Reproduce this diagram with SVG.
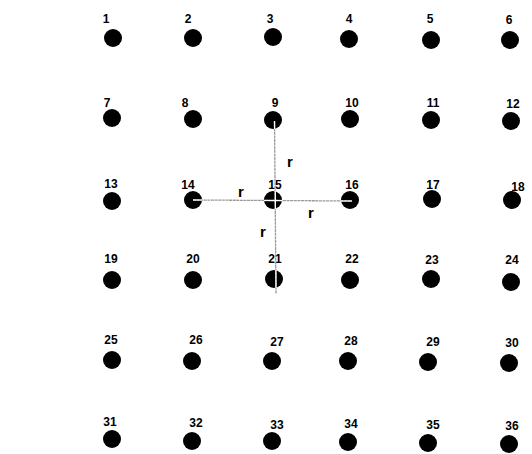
<svg xmlns="http://www.w3.org/2000/svg" width="532" height="454" viewBox="0 0 532 454">
<style>
.d{fill:#000}
.t{font-family:"Liberation Sans",Arial,sans-serif;font-size:12px;font-weight:bold;text-anchor:middle;fill:#000}
.r{font-family:"Liberation Sans",Arial,sans-serif;font-size:15px;font-weight:bold;text-anchor:middle;fill:#000}
.c{stroke:#9a9a9a;stroke-width:1.3;fill:none;stroke-dasharray:3 0.6}
.w{stroke:#fff;stroke-width:1.3;fill:none}
</style>
<rect width="532" height="454" fill="#fff"/>
<g id="n1"><circle class="d" cx="113" cy="38" r="9"/><text class="t" x="106" y="23">1</text></g>
<g id="n2"><circle class="d" cx="193" cy="38" r="9"/><text class="t" x="188" y="23">2</text></g>
<g id="n3"><circle class="d" cx="273" cy="37" r="9"/><text class="t" x="270" y="23">3</text></g>
<g id="n4"><circle class="d" cx="349" cy="39" r="9"/><text class="t" x="349" y="23">4</text></g>
<g id="n5"><circle class="d" cx="431" cy="40" r="9"/><text class="t" x="430" y="23">5</text></g>
<g id="n6"><circle class="d" cx="510" cy="40" r="9"/><text class="t" x="509" y="24">6</text></g>
<g id="n7"><circle class="d" cx="112" cy="118" r="9"/><text class="t" x="107" y="107">7</text></g>
<g id="n8"><circle class="d" cx="193" cy="119" r="9"/><text class="t" x="185" y="107">8</text></g>
<g id="n9"><circle class="d" cx="273" cy="120" r="9"/><text class="t" x="275" y="107">9</text></g>
<g id="n10"><circle class="d" cx="350" cy="119" r="9"/><text class="t" x="352" y="107">10</text></g>
<g id="n11"><circle class="d" cx="431" cy="120" r="9"/><text class="t" x="433" y="107">11</text></g>
<g id="n12"><circle class="d" cx="511" cy="121" r="9"/><text class="t" x="513" y="108">12</text></g>
<g id="n13"><circle class="d" cx="112" cy="201" r="9"/><text class="t" x="111" y="188">13</text></g>
<g id="n14"><circle class="d" cx="193" cy="200" r="9"/><text class="t" x="188" y="189">14</text></g>
<g id="n15"><circle class="d" cx="273" cy="200" r="9"/><text class="t" x="275" y="189">15</text></g>
<g id="n16"><circle class="d" cx="350" cy="200" r="9"/><text class="t" x="352" y="189">16</text></g>
<g id="n17"><circle class="d" cx="432" cy="199" r="9"/><text class="t" x="433" y="189">17</text></g>
<g id="n18"><circle class="d" cx="512" cy="200" r="9"/><text class="t" x="518" y="191">18</text></g>
<g id="n19"><circle class="d" cx="112" cy="280" r="9"/><text class="t" x="111" y="263">19</text></g>
<g id="n20"><circle class="d" cx="193" cy="280" r="9"/><text class="t" x="193" y="263">20</text></g>
<g id="n21"><circle class="d" cx="274" cy="279" r="9"/><text class="t" x="275" y="263">21</text></g>
<g id="n22"><circle class="d" cx="350" cy="280" r="9"/><text class="t" x="352" y="263">22</text></g>
<g id="n23"><circle class="d" cx="431" cy="279" r="9"/><text class="t" x="432" y="264">23</text></g>
<g id="n24"><circle class="d" cx="511" cy="282" r="9"/><text class="t" x="512" y="264">24</text></g>
<g id="n25"><circle class="d" cx="112" cy="360" r="9"/><text class="t" x="111" y="344">25</text></g>
<g id="n26"><circle class="d" cx="192" cy="361" r="9"/><text class="t" x="196" y="344">26</text></g>
<g id="n27"><circle class="d" cx="272" cy="361" r="9"/><text class="t" x="277" y="346">27</text></g>
<g id="n28"><circle class="d" cx="348" cy="361" r="9"/><text class="t" x="351" y="345">28</text></g>
<g id="n29"><circle class="d" cx="428" cy="362" r="9"/><text class="t" x="433" y="346">29</text></g>
<g id="n30"><circle class="d" cx="509" cy="363" r="9"/><text class="t" x="512" y="347">30</text></g>
<g id="n31"><circle class="d" cx="112" cy="439" r="9"/><text class="t" x="110" y="426">31</text></g>
<g id="n32"><circle class="d" cx="192" cy="441" r="9"/><text class="t" x="196" y="427">32</text></g>
<g id="n33"><circle class="d" cx="272" cy="441" r="9"/><text class="t" x="277" y="429">33</text></g>
<g id="n34"><circle class="d" cx="348" cy="442" r="9"/><text class="t" x="351" y="428">34</text></g>
<g id="n35"><circle class="d" cx="428" cy="443" r="9"/><text class="t" x="433" y="429">35</text></g>
<g id="n36"><circle class="d" cx="509" cy="444" r="9"/><text class="t" x="512" y="430">36</text></g>
<g id="connectors">
<line class="c" x1="274.5" y1="121" x2="276" y2="294"/>
<line class="c" x1="193" y1="200" x2="352" y2="201"/>
<line class="w" x1="274.5" y1="121" x2="274.6" y2="129"/>
<line class="w" x1="275.3" y1="191" x2="275.4" y2="209"/>
<line class="w" x1="264" y1="200.5" x2="282" y2="200.5"/>
<line class="w" x1="193" y1="200" x2="202" y2="200"/>
<line class="w" x1="341" y1="201" x2="352" y2="201"/>
<line class="w" x1="275.9" y1="270" x2="276" y2="288"/>
<text class="r" x="290" y="167">r</text>
<text class="r" x="241" y="197">r</text>
<text class="r" x="311" y="218">r</text>
<text class="r" x="263" y="237">r</text>
</g>
</svg>
